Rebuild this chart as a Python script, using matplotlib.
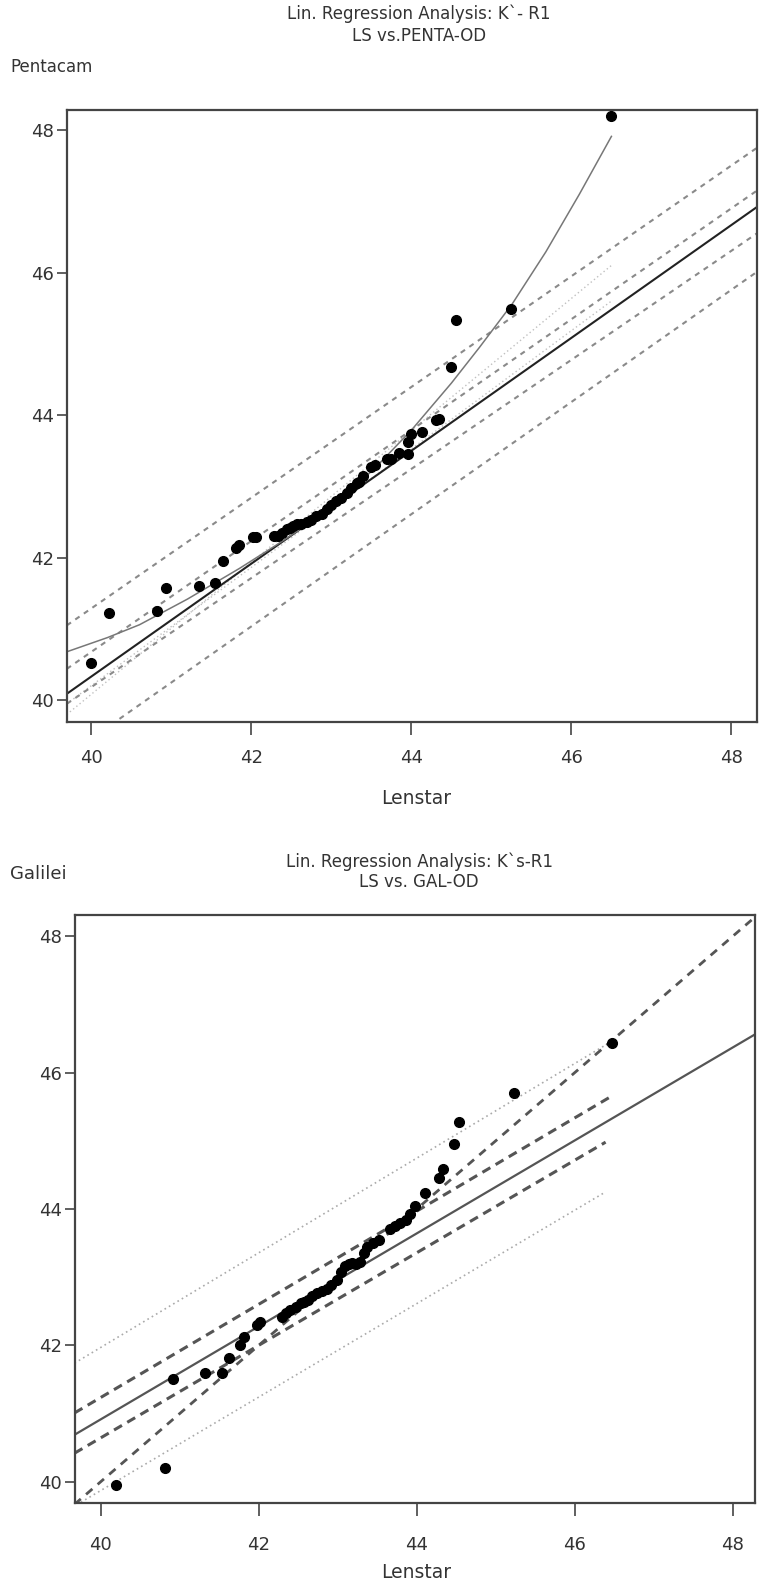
import matplotlib
matplotlib.use('Agg')
import matplotlib.pyplot as plt

# ---- Lenstar vs Pentacam (K`- R1) ----
penta_x = [40.00, 40.22, 40.82, 40.93, 41.35, 41.55, 41.65, 41.81, 41.85, 42.02,
           42.06, 42.28, 42.33, 42.38, 42.44, 42.48, 42.52, 42.57, 42.62, 42.69,
           42.75, 42.81, 42.88, 42.94, 43.00, 43.06, 43.12, 43.19, 43.25, 43.32,
           43.35, 43.40, 43.50, 43.54, 43.69, 43.75, 43.85, 43.96, 43.96, 44.00,
           44.13, 44.31, 44.35, 44.50, 44.56, 45.25, 46.50]
penta_y = [40.52, 41.23, 41.25, 41.58, 41.60, 41.65, 41.95, 42.14, 42.18, 42.29,
           42.29, 42.30, 42.31, 42.35, 42.40, 42.42, 42.45, 42.47, 42.47, 42.50,
           42.53, 42.58, 42.62, 42.68, 42.74, 42.79, 42.84, 42.91, 42.98, 43.05,
           43.06, 43.14, 43.27, 43.30, 43.38, 43.39, 43.47, 43.46, 43.63, 43.74,
           43.77, 43.93, 43.94, 44.68, 45.33, 45.49, 48.19]

# non-linear fit curve
penta_curve_x = [39.69, 40.2, 40.6, 41.2, 41.85, 42.3, 42.69, 43.1, 43.52, 44.0,
                 44.5, 44.85, 45.26, 45.68, 46.1, 46.5]
penta_curve_y = [40.68, 40.88, 41.06, 41.42, 41.85, 42.17, 42.46, 42.82, 43.23, 43.79,
                 44.45, 44.95, 45.56, 46.29, 47.10, 47.91]

# straight lines as (x0, y0, x1, y1)
penta_reg = (39.69, 40.09, 48.32, 46.92)
penta_bands = [(39.69, 41.05, 48.32, 47.75),
               (39.69, 40.44, 48.32, 47.15),
               (39.69, 39.95, 48.32, 46.55),
               (40.35, 39.74, 48.32, 46.01)]
penta_faint = [(39.69, 39.80, 46.5, 46.10),
               (39.69, 39.95, 46.5, 45.60)]

# ---- Lenstar vs Galilei (K`s-R1) ----
gal_x = [40.19, 40.81, 40.91, 41.32, 41.53, 41.63, 41.77, 41.82, 41.98, 42.02,
         42.29, 42.35, 42.40, 42.47, 42.53, 42.58, 42.63, 42.68, 42.74, 42.80,
         42.86, 42.92, 42.99, 43.04, 43.09, 43.14, 43.18, 43.23, 43.28, 43.33,
         43.37, 43.45, 43.52, 43.66, 43.72, 43.79, 43.86, 43.92, 43.98, 44.11,
         44.28, 44.33, 44.47, 44.54, 45.23, 46.47]
gal_y = [39.96, 40.20, 41.51, 41.60, 41.59, 41.81, 42.01, 42.13, 42.30, 42.35,
         42.42, 42.47, 42.52, 42.57, 42.62, 42.64, 42.67, 42.72, 42.77, 42.80,
         42.82, 42.88, 42.96, 43.07, 43.16, 43.20, 43.21, 43.20, 43.23, 43.35,
         43.45, 43.50, 43.55, 43.70, 43.75, 43.79, 43.84, 43.92, 44.04, 44.23,
         44.46, 44.58, 44.95, 45.27, 45.70, 46.43]

gal_reg = (39.67, 40.69, 48.28, 46.56)
gal_identity = (39.67, 39.67, 48.28, 48.28)
gal_conf = [(39.67, 41.01, 46.43, 45.63),
            (39.67, 40.42, 46.39, 44.98)]
gal_pred = [(39.67, 41.74, 46.47, 46.46),
            (39.75, 39.70, 46.36, 44.23)]

ticks = [40, 42, 44, 46, 48]
tick_labels = ['40', '42', '44', '46', '48']

W, H = 766, 1584
TXT = '#333333'
plt.rcParams['font.family'] = ['DejaVu Sans']

fig = plt.figure(figsize=(W / 100, H / 100), dpi=100)


def px_axes(left, top, right, bottom):
    return fig.add_axes([left / W, 1 - bottom / H, (right - left) / W, (bottom - top) / H])


def seg(ax, s, **kw):
    ax.plot([s[0], s[2]], [s[1], s[3]], **kw)


def style_axes(ax, xlim, ylim, xpad):
    ax.set_xlim(*xlim)
    ax.set_ylim(*ylim)
    ax.set_xticks(ticks)
    ax.set_xticklabels(tick_labels)
    ax.set_yticks(ticks)
    ax.set_yticklabels(tick_labels)
    for sp in ax.spines.values():
        sp.set_color('#444444')
        sp.set_linewidth(1.6)
    ax.tick_params(axis='x', length=9, width=1.2, pad=xpad, colors='#444444',
                   labelsize=13, labelcolor=TXT)
    ax.tick_params(axis='y', length=7, width=1.2, pad=2, colors='#444444',
                   labelsize=13, labelcolor=TXT)


# top panel
ax1 = px_axes(66.7, 110, 757, 721.7)
style_axes(ax1, (39.69, 48.32), (39.70, 48.28), 11)
for s in penta_faint:
    seg(ax1, s, color='#c0c0c0', lw=1.0, ls=(0, (1, 2)))
for s in penta_bands:
    seg(ax1, s, color='#8a8a8a', lw=1.5, ls=(0, (2.5, 2.5)))
seg(ax1, penta_reg, color='#222222', lw=1.5)
ax1.plot(penta_curve_x, penta_curve_y, color='#777777', lw=1.1)
ax1.plot(penta_x, penta_y, 'o', color='black', ms=7, zorder=5)

fig.text(419 / W, 1 - 14 / H, 'Lin. Regression Analysis: K`- R1', ha='center', va='center',
         fontsize=12, color=TXT)
fig.text(419 / W, 1 - 36 / H, 'LS vs.PENTA-OD', ha='center', va='center',
         fontsize=12, color=TXT)
fig.text(10 / W, 1 - 67 / H, 'Pentacam', ha='left', va='center', fontsize=12, color=TXT)
fig.text(416 / W, 1 - 798 / H, 'Lenstar', ha='center', va='center', fontsize=13.5, color=TXT)

# bottom panel
ax2 = px_axes(74.5, 915, 755, 1503)
style_axes(ax2, (39.67, 48.28), (39.69, 48.31), 15)
for s in gal_pred:
    seg(ax2, s, color='#aaaaaa', lw=1.2, ls=(0, (1, 2)))
seg(ax2, gal_identity, color='#555555', lw=2.0, ls=(0, (3, 2.5)))
for s in gal_conf:
    seg(ax2, s, color='#555555', lw=2.2, ls=(0, (3, 2)))
seg(ax2, gal_reg, color='#555555', lw=1.6)
ax2.plot(gal_x, gal_y, 'o', color='black', ms=7, zorder=5)

fig.text(419 / W, 1 - 862 / H, 'Lin. Regression Analysis: K`s-R1', ha='center', va='center',
         fontsize=12, color=TXT)
fig.text(419 / W, 1 - 882 / H, 'LS vs. GAL-OD', ha='center', va='center',
         fontsize=12, color=TXT)
fig.text(10 / W, 1 - 874 / H, 'Galilei', ha='left', va='center', fontsize=13, color=TXT)
fig.text(416 / W, 1 - 1572 / H, 'Lenstar', ha='center', va='center', fontsize=13.5, color=TXT)

fig.savefig('out.png', dpi=100)
